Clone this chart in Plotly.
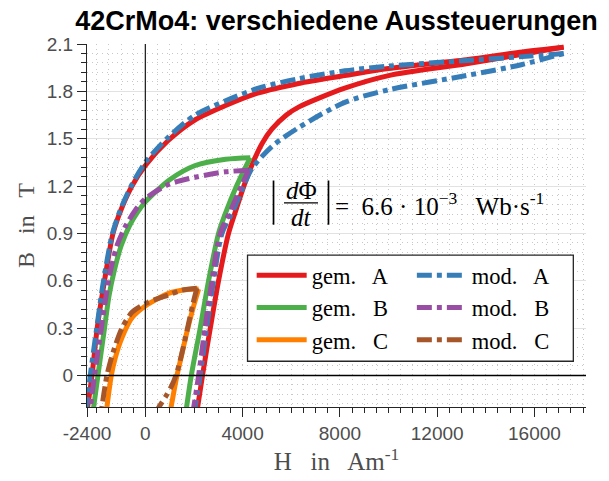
import plotly.graph_objects as go

# ---------------- data (H in A/m, B in T) ----------------
gemA_asc_H = [2100, 2350, 2670, 3010, 3420, 3750, 4050, 4400, 4800, 5200, 5800, 6300, 8200, 10000, 13200, 15500, 17200]
gemA_asc_B = [-0.25, 0.0, 0.3, 0.6, 0.9, 1.06, 1.2, 1.34, 1.47, 1.56, 1.65, 1.70, 1.82, 1.90, 1.975, 2.035, 2.08]
gemA_desc_H = [17200, 15500, 13200, 10000, 8200, 6300, 4650, 3300, 2050, 950, 0, -550, -1000, -1330, -1680, -1980, -2195, -2420]
gemA_desc_B = [2.08, 2.05, 2.0, 1.945, 1.90, 1.85, 1.79, 1.71, 1.62, 1.49, 1.33, 1.2, 1.05, 0.9, 0.6, 0.3, 0.0, -0.25]

modA_asc_H = [2000, 2255, 2520, 2805, 3150, 3630, 4040, 4380, 5200, 6300, 8200, 10000, 13200, 15500, 17200]
modA_asc_B = [-0.25, 0.0, 0.3, 0.6, 0.9, 1.05, 1.2, 1.31, 1.45, 1.57, 1.73, 1.81, 1.90, 1.97, 2.04]
modA_desc_H = [17200, 15500, 13200, 10000, 8200, 6300, 4650, 3300, 2050, 950, 0, -550, -1000, -1350, -1720, -2000, -2265, -2450]
modA_desc_B = [2.04, 2.02, 1.995, 1.96, 1.93, 1.88, 1.82, 1.74, 1.65, 1.51, 1.35, 1.21, 1.06, 0.9, 0.6, 0.3, 0.0, -0.25]

gemB_asc_H = [1650, 1890, 2255, 2600, 3010, 3300, 3750, 4315]
gemB_asc_B = [-0.25, 0.0, 0.3, 0.6, 0.9, 1.03, 1.2, 1.38]
gemB_desc_H = [4315, 3300, 2050, 1000, 0, -300, -650, -1000, -1300, -1500, -1680, -1950, -2170]
gemB_desc_B = [1.38, 1.37, 1.33, 1.24, 1.10, 1.04, 0.95, 0.82, 0.65, 0.5, 0.3, 0.0, -0.25]

modB_asc_H = [1940, 2190, 2450, 2740, 3080, 3520, 3950, 4245]
modB_asc_B = [-0.25, 0.0, 0.3, 0.6, 0.9, 1.05, 1.2, 1.30]
modB_desc_H = [4245, 3300, 2050, 950, 0, -400, -800, -1150, -1450, -1620, -1810, -2090, -2300]
modB_desc_B = [1.30, 1.29, 1.256, 1.21, 1.12, 1.05, 0.95, 0.83, 0.65, 0.5, 0.3, 0.0, -0.25]

gemC_asc_H = [1000, 1300, 1480, 1700, 1950, 2190]
gemC_asc_B = [-0.25, 0.0, 0.12, 0.27, 0.42, 0.547]
gemC_desc_H = [2190, 1500, 950, 0, -550, -960, -1240, -1400, -1620]
gemC_desc_B = [0.547, 0.54, 0.52, 0.44, 0.365, 0.24, 0.11, 0.0, -0.25]

modC_asc_H = [400, 560, 850, 1100, 1300, 1500, 1750, 1950, 2120]
modC_asc_B = [-0.25, -0.2, -0.13, -0.06, 0.02, 0.14, 0.31, 0.45, 0.553]
modC_desc_H = [2120, 1500, 950, 0, -550, -960, -1310, -1580, -1830]
modC_desc_B = [0.553, 0.54, 0.51, 0.455, 0.40, 0.30, 0.155, 0.0, -0.25]

x_tickvals = [-2400, 0, 4000, 8000, 12000, 16000]
x_ticktext = ["-2400", "0", "4000", "8000", "12000", "16000"]
y_tickvals = [0, 0.3, 0.6, 0.9, 1.2, 1.5, 1.8, 2.1]
y_ticktext = ["0", "0.3", "0.6", "0.9", "1.2", "1.5", "1.8", "2.1"]

SP = "\u00a0\u00a0 "
series = [
    ("gem." + SP + "A", "#e41a1c", "solid", "legend", gemA_asc_H, gemA_asc_B, gemA_desc_H, gemA_desc_B),
    ("mod." + SP + "A", "#377eb8", "dashdot", "legend2", modA_asc_H, modA_asc_B, modA_desc_H, modA_desc_B),
    ("gem." + SP + "B", "#4daf4a", "solid", "legend", gemB_asc_H, gemB_asc_B, gemB_desc_H, gemB_desc_B),
    ("mod." + SP + "B", "#984ea3", "dashdot", "legend2", modB_asc_H, modB_asc_B, modB_desc_H, modB_desc_B),
    ("gem." + SP + "C", "#ff7f00", "solid", "legend", gemC_asc_H, gemC_asc_B, gemC_desc_H, gemC_desc_B),
    ("mod." + SP + "C", "#a65628", "dashdot", "legend2", modC_asc_H, modC_asc_B, modC_desc_H, modC_desc_B),
]

DASH = "15px,5px,5px,5px"
LW = 5

fig = go.Figure()
for name, color, style, leg, ah, ab, dh, db in series:
    dash = "solid" if style == "solid" else DASH
    fig.add_trace(go.Scatter(x=ah, y=ab, mode="lines", name=name, legend=leg, legendgroup=name,
                             showlegend=True,
                             line=dict(color=color, width=LW, dash=dash, shape="spline", smoothing=0.8)))
    fig.add_trace(go.Scatter(x=dh, y=db, mode="lines", name=name, legend=leg, legendgroup=name,
                             showlegend=False,
                             line=dict(color=color, width=LW, dash=dash, shape="spline", smoothing=0.8)))

AX = "#262626"
TICKC = "#4d4d4d"
SERIF = "Liberation Serif"

fig.update_layout(
    width=609, height=481,
    margin=dict(l=87, r=23, t=44, b=74),
    paper_bgcolor="white", plot_bgcolor="white",
    hovermode=False,
    title=dict(text="<b>42CrMo4: verschiedene Aussteuerungen</b>",
               font=dict(family="Liberation Sans", size=27, color="black"),
               x=0.5, xref="paper", xanchor="center", y=1 - 21 / 481, yref="container", yanchor="middle"),
    xaxis=dict(range=[-2400, 18120], tickmode="array", tickvals=x_tickvals, ticktext=x_ticktext,
               tickfont=dict(family="Liberation Sans", size=19, color=TICKC),
               showline=True, linecolor=AX, linewidth=1, ticks="outside", ticklen=9, tickcolor=AX,
               showgrid=True, gridcolor="#c8c8c8", griddash="1px,4px", gridwidth=1,
               zeroline=False,
               minor=dict(dtick=500, tick0=0, ticks="outside", ticklen=5, tickcolor=AX,
                          showgrid=True, gridcolor="#c8c8c8", griddash="1px,4px", gridwidth=1),
               title=dict(text="H\u00a0\u00a0 in\u00a0\u00a0 Am<sup>-1</sup>\u00a0\u00a0", standoff=8,
                          font=dict(family=SERIF, size=25, color=TICKC))),
    yaxis=dict(range=[-0.2, 2.1], tickmode="array", tickvals=y_tickvals, ticktext=y_ticktext,
               tickfont=dict(family="Liberation Sans", size=19, color=TICKC),
               showline=True, linecolor=AX, linewidth=1, ticks="outside", ticklen=9, tickcolor=AX,
               showgrid=True, gridcolor="#e2e2e2", gridwidth=1,
               zeroline=False,
               minor=dict(dtick=0.06, tick0=0, ticks="outside", ticklen=5, tickcolor=AX,
                          showgrid=True, gridcolor="#c8c8c8", griddash="1px,4px", gridwidth=1),
               title=dict(text="B\u00a0\u00a0 in\u00a0\u00a0 T", standoff=5,
                          font=dict(family=SERIF, size=24, color=TICKC))),
    legend=dict(x=0.33, y=0.421, xanchor="left", yanchor="top", bgcolor="rgba(0,0,0,0)",
                borderwidth=0, font=dict(family=SERIF, size=22.5, color="black"), tracegroupgap=0,
                itemwidth=50),
    legend2=dict(x=0.651, y=0.421, xanchor="left", yanchor="top", bgcolor="rgba(0,0,0,0)",
                 borderwidth=0, font=dict(family=SERIF, size=22.5, color="black"), tracegroupgap=0,
                 itemwidth=50),
)

# reference lines at H=0 and B=0 (drawn above the curves)
fig.add_shape(type="line", xref="x", yref="paper", x0=0, x1=0, y0=0, y1=1,
              line=dict(color=AX, width=1.3), layer="above")
fig.add_shape(type="line", xref="paper", yref="y", x0=0, x1=1, y0=0, y1=0,
              line=dict(color="black", width=1.6), layer="above")

# legend frame
fig.add_shape(type="rect", xref="paper", yref="paper", x0=0.3217, x1=0.9746, y0=0.126, y1=0.4183,
              fillcolor="white", line=dict(color=AX, width=1.3), layer="above")

# |dPhi/dt| = ... annotation
fig.add_shape(type="line", xref="x", yref="y", x0=5270, x1=5270, y0=0.955, y1=1.235,
              line=dict(color="black", width=1.7), layer="above")
fig.add_shape(type="line", xref="x", yref="y", x0=7530, x1=7530, y0=0.955, y1=1.235,
              line=dict(color="black", width=1.7), layer="above")
fig.add_shape(type="line", xref="x", yref="y", x0=5700, x1=7100, y0=1.093, y1=1.093,
              line=dict(color="black", width=1.3), layer="above")
fig.add_annotation(x=6400, y=1.17, xref="x", yref="y", text="<i>d</i>\u03a6", showarrow=False,
                   font=dict(family=SERIF, size=25, color="black"), xanchor="center", yanchor="middle")
fig.add_annotation(x=6400, y=1.0, xref="x", yref="y", text="<i>dt</i>", showarrow=False,
                   font=dict(family=SERIF, size=25, color="black"), xanchor="center", yanchor="middle")
fig.add_annotation(x=7700, y=1.087, xref="x", yref="y",
                   text="=\u00a0 6.6\u00a0\u00b7\u00a010<sup>\u22123</sup>\u00a0\u00a0 Wb\u00b7s<sup>-1</sup>",
                   showarrow=False, font=dict(family=SERIF, size=25, color="black"),
                   xanchor="left", yanchor="middle")

fig.write_html("out.html", config={"displayModeBar": False})
